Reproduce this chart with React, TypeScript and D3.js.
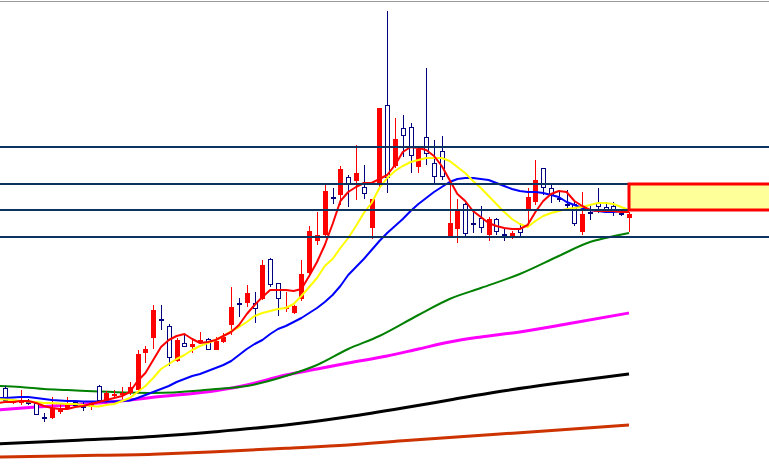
import React, { useRef, useEffect } from "react";
import * as d3 from "d3";

// OHLC per bar, oldest first
const opens = [
  69, 84, 69, 70, 70, 69, 55, 54, 60, 64,
  70, 66, 65, 86, 70, 76, 77, 79, 82, 119,
  134, 153, 146, 111, 129, 125, 129, 133, 122, 130,
  147, 169, 169, 169, 173, 213, 189, 164, 159, 173,
  199, 231, 237, 275, 277, 295, 291, 285, 244, 287,
  367, 306, 344, 345, 305, 335, 309, 321, 236, 243,
  268, 249, 254, 237, 253, 238, 235, 244, 263, 270,
  304, 284, 274, 268, 268, 240, 260, 269, 265, 266,
  259, 254,
];
const highs = [
  72, 86, 73, 82, 73, 70, 59, 75, 67, 75,
  71, 70, 70, 87, 81, 82, 85, 90, 122, 126,
  167, 167, 148, 134, 138, 134, 140, 134, 135, 139,
  185, 174, 187, 180, 212, 214, 189, 180, 167, 212,
  246, 260, 287, 284, 306, 297, 327, 307, 273, 364,
  461, 354, 357, 349, 325, 404, 332, 336, 292, 273,
  269, 262, 266, 255, 254, 243, 241, 249, 284, 312,
  304, 289, 282, 282, 270, 280, 268, 284, 270, 270,
  263, 260,
];
const lows = [
  68, 71, 68, 67, 67, 57, 50, 53, 58, 62,
  66, 61, 62, 70, 69, 74, 73, 77, 79, 109,
  123, 142, 106, 110, 125, 119, 128, 122, 122, 129,
  137, 155, 165, 149, 172, 185, 156, 160, 158, 171,
  198, 227, 235, 268, 267, 265, 272, 273, 233, 285,
  279, 304, 315, 299, 299, 307, 289, 292, 235, 229,
  236, 239, 239, 231, 237, 231, 233, 234, 245, 267,
  277, 269, 270, 264, 246, 237, 252, 259, 259, 256,
  256, 240,
];
const closes = [
  71, 72, 71, 71, 70, 58, 55, 64, 63, 69,
  67, 66, 69, 72, 79, 78, 79, 85, 118, 123,
  162, 153, 115, 132, 126, 128, 132, 123, 131, 135,
  165, 169, 179, 164, 207, 188, 174, 165, 166, 198,
  241, 237, 281, 275, 303, 289, 299, 279, 273, 364,
  295, 333, 337, 317, 323, 319, 296, 296, 249, 261,
  239, 249, 245, 253, 241, 238, 239, 240, 275, 292,
  285, 277, 274, 268, 249, 258, 260, 266, 261, 262,
  259, 258,
];

// short moving averages, one value per bar
const maRed = [
  69, 70, 70, 71, 71, 69, 66, 64, 63, 63,
  65, 66, 68, 70, 72, 74, 76, 80, 91, 99,
  112, 125, 132, 136, 138, 133, 129, 130, 132, 136,
  140, 147, 158, 167, 175, 182, 182, 182, 181, 183,
  196, 210, 227, 248, 271, 280, 285, 289, 289, 293,
  297, 307, 320, 325, 324, 322, 316, 306, 292, 278,
  271, 261, 255, 249, 246, 244, 243, 243, 247, 260,
  271, 278, 281, 280, 271, 266, 262, 261, 261, 261,
  260, 260,
];
const maYellow = [
  73, 72.5, 72, 71, 70.5, 70, 69, 69, 68.5, 68,
  68, 67, 66, 65.5, 67, 68, 71, 74, 80, 86,
  94, 103, 108, 113, 117, 122, 126, 129, 132, 136,
  141, 145, 150, 156, 159, 161, 163, 164, 168, 176,
  185, 194, 206, 213, 224, 234, 246, 259, 269, 284,
  294, 301, 306, 310, 312, 314, 314, 314, 311, 305,
  299, 291, 284, 276, 268, 260, 253, 248, 245, 251,
  256, 259, 261, 263, 264, 265, 267, 269, 269, 268,
  265, 262,
];
const maBlue = [
  74, 74, 74.5, 75, 75, 74, 73, 72, 71.5, 71,
  71, 70.5, 70.5, 70.5, 70.5, 70.5, 71, 71.5, 74, 77,
  80, 83, 86, 90, 93, 96, 98, 101, 104, 107,
  111, 117, 123, 128, 132, 138, 143, 146, 150, 154,
  159, 164, 170, 177, 186, 197, 205, 213, 222, 231,
  239, 246, 253, 261, 268, 274, 280, 285, 290, 293,
  294, 294, 293, 292, 289, 286, 283, 281, 280, 280,
  279, 277, 275, 270, 267, 264, 262, 261, 260, 260,
  261, 261,
];

// long moving averages, read at some bars: [bar, value]
const maGreen = [
  [0, 86], [3, 85], [6, 83], [9, 82], [13, 80.5], [20, 79], [26, 81.5],
  [28, 83], [32, 86], [37, 96], [41, 107], [45, 123], [49, 136], [54, 157],
  [58, 173], [62, 184], [67, 198], [72, 216], [76, 230], [78, 234], [81, 239],
];
const maMagenta = [
  [0, 62], [5, 65], [9, 67], [13, 69], [17, 72], [20, 74.7], [28, 81.3],
  [32, 87], [37, 97], [41, 103], [45, 109], [50, 116], [54, 123], [58, 130],
  [62, 135], [67, 140], [73, 148], [81, 159],
];
const maBlack = [
  [0, 28], [9, 31.3], [20, 35.5], [28, 40.3], [37, 47], [45, 55.3], [52, 64],
  [58, 72], [64, 80], [72, 89], [81, 98],
];
const maOrange = [
  [0, 15], [10, 16.3], [20, 17.8], [28, 20.3], [37, 23.7], [45, 27], [52, 31.3],
  [64, 37.7], [72, 42], [81, 47],
];

const levels = [325, 288, 262, 235];
const zoneFrom = 81;
const zoneTo = 110;
const zoneTop = 288;
const zoneBottom = 262;

const width = 769;
const height = 472;

const App = () => {
  const ref: any = useRef();

  useEffect(() => {
    const svg = d3.select(ref.current);
    svg.selectAll("*").remove();

    const xScale = d3.scaleLinear().domain([0, 81]).range([-2.8, 629]);
    const yScale = d3.scaleLinear().domain([0, 472]).range([472, 0]);

    const line = d3
      .line<any>()
      .x((d: any) => xScale(d[0]))
      .y((d: any) => yScale(d[1]));

    const smooth = d3
      .line<any>()
      .curve(d3.curveMonotoneX)
      .x((d: any) => xScale(d[0]))
      .y((d: any) => yScale(d[1]));

    const drawLine = (gen: any, pts: any[], color: string, w: number) =>
      svg
        .append("path")
        .attr("d", gen(pts))
        .attr("fill", "none")
        .attr("stroke", color)
        .attr("stroke-width", w)
        .attr("stroke-linejoin", "round");

    const perBar = (arr: number[]) => arr.map((v, i) => [i, v]);

    // long averages
    drawLine(smooth, maOrange, "#cc3300", 3);
    drawLine(smooth, maBlack, "#000000", 3);
    drawLine(smooth, maMagenta, "#ff00ff", 3);
    drawLine(smooth, maGreen, "#008000", 2);

    // candles
    const bars = svg.append("g").attr("shape-rendering", "crispEdges");
    opens.forEach((o, i) => {
      const c = closes[i];
      const up = c > o;
      const cx = Math.round(xScale(i));
      const color = up ? "#ff0000" : "#000080";
      bars
        .append("line")
        .attr("x1", cx + 0.5)
        .attr("x2", cx + 0.5)
        .attr("y1", yScale(highs[i]))
        .attr("y2", yScale(lows[i]))
        .attr("stroke", color)
        .attr("stroke-width", 1);
      const top = Math.round(yScale(Math.max(o, c)));
      const bot = Math.round(yScale(Math.min(o, c)));
      if (up) {
        bars
          .append("rect")
          .attr("x", cx - 2)
          .attr("width", 5)
          .attr("y", top)
          .attr("height", Math.max(bot - top, 2))
          .attr("fill", "#ff0000");
      } else {
        bars
          .append("rect")
          .attr("x", cx - 1.5)
          .attr("width", 4)
          .attr("y", top + 0.5)
          .attr("height", Math.max(bot - top, 1))
          .attr("fill", "#ffffff")
          .attr("stroke", "#000080")
          .attr("stroke-width", 1);
      }
    });

    // short averages
    drawLine(line, perBar(maBlue), "#0000ff", 2);
    drawLine(line, perBar(maYellow), "#ffff00", 2);
    drawLine(line, perBar(maRed), "#ff0000", 2);

    // horizontal levels
    svg
      .selectAll(".level")
      .data(levels)
      .enter()
      .append("line")
      .attr("x1", 0)
      .attr("x2", width)
      .attr("y1", (d: number) => Math.round(yScale(d)))
      .attr("y2", (d: number) => Math.round(yScale(d)))
      .attr("stroke", "#0d3461")
      .attr("stroke-width", 2);

    // zone box
    svg
      .append("rect")
      .attr("x", xScale(zoneFrom))
      .attr("y", yScale(zoneTop))
      .attr("width", xScale(zoneTo) - xScale(zoneFrom))
      .attr("height", yScale(zoneBottom) - yScale(zoneTop))
      .attr("fill", "#ffff99")
      .attr("stroke", "#ff0000")
      .attr("stroke-width", 3);

    // top border
    svg
      .append("line")
      .attr("x1", 0)
      .attr("x2", width)
      .attr("y1", 1.5)
      .attr("y2", 1.5)
      .attr("stroke", "#9a9a9a")
      .attr("stroke-width", 1);
  }, []);

  return (
    <svg
      ref={ref}
      width={width}
      height={height}
      style={{ position: "absolute", left: 0, top: 0, background: "#ffffff", display: "block" }}
    />
  );
};

export default App;
